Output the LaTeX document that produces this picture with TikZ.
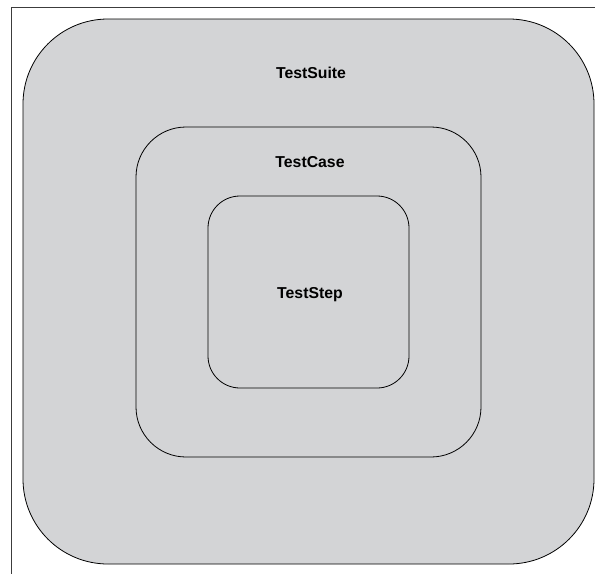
\documentclass[tikz,border=0pt]{standalone}
\usepackage{fontspec}
\setmainfont{Liberation Sans}
\usepackage{tikz}
\usepackage{xcolor}
\definecolor{boxgray}{RGB}{211,212,214}
\definecolor{framegray}{RGB}{60,60,60}

\tikzset{
  layer/.style={draw=black, line width=0.8pt, fill=boxgray, inner sep=0pt},
  layername/.style={font=\fontsize{15.8}{18}\selectfont\bfseries, anchor=center}
}

\begin{document}
\begin{tikzpicture}[x=1pt, y=-1pt]
        \useasboundingbox (0,0) rectangle (595,574);
        % frame
        \coordinate (frametop) at (595,7);
        \coordinate (framecorner) at (11,7);
        \coordinate (framebottom) at (11,574);
        \draw[framegray, line width=1pt] (frametop) -- (framecorner) -- (framebottom);
        % nested layers
        \node[layer, rounded corners=85pt, minimum width=571pt, minimum height=545pt] (suite) at (308.5,291.5) {};
        \node[layer, rounded corners=50pt, minimum width=345pt, minimum height=330pt] (case) at (308.5,292) {};
        \node[layer, rounded corners=32pt, minimum width=201pt, minimum height=192pt] (step) at (308.5,292) {};
        % labels
        \node[layername] (suitename) at (311,73) {TestSuite};
        \node[layername] (casename) at (310,162) {TestCase};
        \node[layername] (stepname) at (310,295) {TestStep};
    \end{tikzpicture}
\end{document}
